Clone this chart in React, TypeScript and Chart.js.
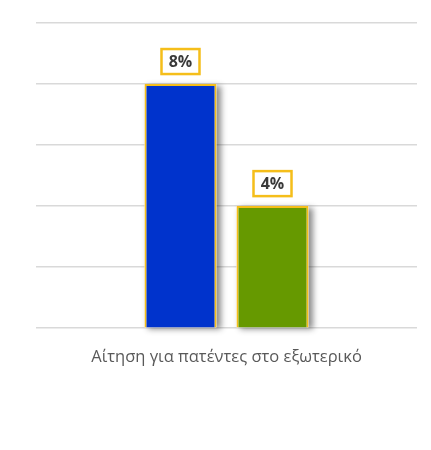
import React, { useEffect, useRef } from "react";
import { Chart, registerables } from "chart.js";

Chart.register(...registerables);

const categories = ["Αίτηση για πατέντες στο εξωτερικό"];
const seriesNames = ["Σειρά 1", "Σειρά 2"];
const seriesA = [8];
const seriesB = [4];
const yTicks = [0, 2, 4, 6, 8, 10];

const FONT = "'Open Sans', 'DejaVu Sans', sans-serif";

const shadowPlugin = {
  id: "barShadow",
  beforeDatasetsDraw(chart: any) {
    const ctx = chart.ctx;
    chart.data.datasets.forEach((_ds: any, di: number) => {
      const meta = chart.getDatasetMeta(di);
      meta.data.forEach((bar: any) => {
        const left = bar.x - bar.width / 2;
        const top = Math.min(bar.y, bar.base);
        const h = Math.abs(bar.base - bar.y);
        ctx.save();
        ctx.shadowColor = "rgba(0,0,0,0.45)";
        ctx.shadowBlur = 6;
        ctx.shadowOffsetX = 4;
        ctx.shadowOffsetY = 2;
        ctx.fillStyle = "#ffffff";
        ctx.fillRect(left, top, bar.width, h);
        ctx.restore();
      });
    });
  },
};

const labelPlugin = {
  id: "boxLabels",
  afterDatasetsDraw(chart: any) {
    const ctx = chart.ctx;
    chart.data.datasets.forEach((ds: any, di: number) => {
      const meta = chart.getDatasetMeta(di);
      meta.data.forEach((bar: any, i: number) => {
        const text = ds.data[i] + "%";
        const w = 38;
        const h = 25;
        const cx = bar.x;
        const bottom = bar.y - 10;
        ctx.save();
        ctx.fillStyle = "#ffffff";
        ctx.fillRect(cx - w / 2, bottom - h, w, h);
        ctx.strokeStyle = "#F5BE1A";
        ctx.lineWidth = 2.5;
        ctx.strokeRect(cx - w / 2, bottom - h, w, h);
        ctx.fillStyle = "#3a3a3a";
        ctx.font = "bold 16px " + FONT;
        ctx.textAlign = "center";
        ctx.textBaseline = "middle";
        ctx.fillText(text, cx, bottom - h / 2 + 1);
        ctx.restore();
      });
    });
  },
};

export default function App() {
  const ref = useRef<HTMLCanvasElement | null>(null);
  useEffect(() => {
    if (!ref.current) return;
    const chart = new Chart(ref.current, {
      type: "bar",
      data: {
        labels: categories,
        datasets: [
          {
            label: seriesNames[0],
            data: seriesA,
            backgroundColor: "#0033CC",
            borderColor: "#F5BE1A",
            borderWidth: 2,
          },
          {
            label: seriesNames[1],
            data: seriesB,
            backgroundColor: "#669900",
            borderColor: "#F5BE1A",
            borderWidth: 2,
          },
        ],
      },
      options: {
        animation: false,
        responsive: false,
        devicePixelRatio: 1,
        categoryPercentage: 0.483,
        barPercentage: 0.783,
        layout: { padding: { left: 36, right: 14, top: 23, bottom: 64 } },
        plugins: {
          legend: { display: false },
          tooltip: { enabled: false },
        },
        scales: {
          x: {
            grid: { display: false, drawTicks: false },
            border: { display: false },
            ticks: {
              color: "#595959",
              font: { family: FONT, size: 16.5 },
              padding: 19,
            },
          },
          y: {
            min: 0,
            max: 10,
            afterBuildTicks: (s: any) => {
              s.ticks = yTicks.map((v) => ({ value: v }));
            },
            afterFit: (s: any) => {
              s.width = 0;
            },
            ticks: { display: false },
            grid: { color: "#d9d9d9", lineWidth: 1.5, drawTicks: false },
            border: { display: false },
          },
        },
      } as any,
      plugins: [shadowPlugin, labelPlugin],
    });
    return () => chart.destroy();
  }, []);
  return (
    <div style={{ position: "absolute", left: 0, top: 0, width: 431, height: 450, background: "#fff" }}>
      <canvas ref={ref} width={431} height={450} style={{ width: 431, height: 450 }} />
    </div>
  );
}
